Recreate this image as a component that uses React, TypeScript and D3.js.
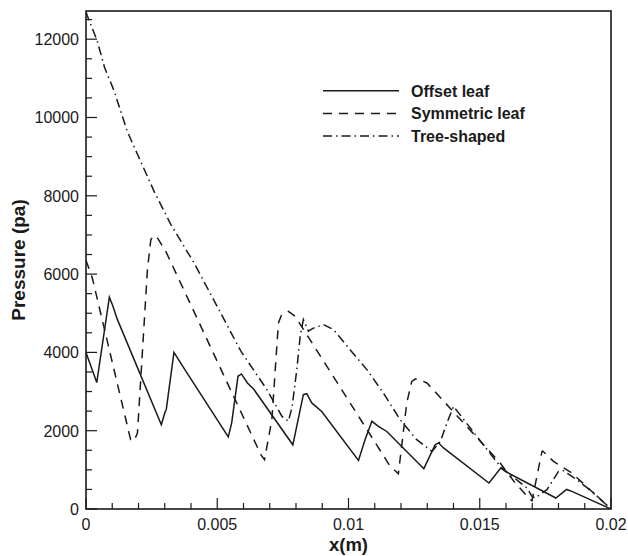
import React from 'react';
import * as d3 from 'd3';

// Offset leaf (solid)
const offsetX = [0, 0.00041, 0.00089, 0.00102, 0.00119, 0.00287, 0.003, 0.00306, 0.00335, 0.00373, 0.00542, 0.00555, 0.00579, 0.00592, 0.00615, 0.0064, 0.00788, 0.00828, 0.00841, 0.0086, 0.00898, 0.01038, 0.01063, 0.01089, 0.01114, 0.01146, 0.01287, 0.0133, 0.01343, 0.01362, 0.01535, 0.0158, 0.01597, 0.0179, 0.01831, 0.01851, 0.02];
const offsetY = [4000, 3230, 5410, 5190, 4850, 2150, 2450, 2550, 4000, 3600, 1840, 2200, 3390, 3450, 3220, 3050, 1640, 2920, 2945, 2710, 2490, 1240, 1770, 2240, 2110, 1980, 1030, 1640, 1690, 1560, 664, 1047, 960, 281, 500, 450, 0];

// Symmetric leaf (dashed)
const symX = [0, 0.00024, 0.0017, 0.00183, 0.00196, 0.00234, 0.00247, 0.00259, 0.00269, 0.00304, 0.00666, 0.0068, 0.00708, 0.00733, 0.00745, 0.00771, 0.00797, 0.01159, 0.0119, 0.01222, 0.01241, 0.01254, 0.0127, 0.01299, 0.01578, 0.01635, 0.01693, 0.01699, 0.01737, 0.0174, 0.01781, 0.01851, 0.0194, 0.02];
const symY = [6350, 5900, 1770, 1740, 1940, 6110, 6880, 6980, 6960, 6580, 1390, 1260, 2280, 4750, 4960, 5050, 4920, 1090, 900, 2710, 3260, 3320, 3300, 3220, 1175, 664, 238, 212, 1471, 1480, 1216, 919, 365, 0];

// Tree-shaped (dash-dot)
const treeX = [0, 0.00005, 0.00043, 0.00071, 0.00107, 0.00157, 0.00196, 0.00259, 0.00323, 0.00412, 0.005, 0.0059, 0.00689, 0.00746, 0.00771, 0.00785, 0.00803, 0.00816, 0.00828, 0.00847, 0.00866, 0.00905, 0.00943, 0.01006, 0.0107, 0.01133, 0.01197, 0.0126, 0.01318, 0.0135, 0.01375, 0.014, 0.01578, 0.01648, 0.0168, 0.01699, 0.01711, 0.01756, 0.018, 0.01819, 0.0187, 0.01934, 0.02];
const treeY = [12700, 12600, 11950, 11270, 10680, 9650, 9060, 8120, 7270, 6280, 5170, 4030, 3050, 2370, 2240, 2600, 3560, 4410, 4840, 4540, 4620, 4710, 4580, 4070, 3560, 2960, 2280, 1770, 1471, 1726, 2196, 2620, 1088, 705, 536, 322, 281, 493, 960, 978, 748, 409, 0];

const xTicks = [0, 0.005, 0.01, 0.015, 0.02];
const xTickLabels = ['0', '0.005', '0.01', '0.015', '0.02'];
const yTicks = [0, 2000, 4000, 6000, 8000, 10000, 12000];
const seriesNames = ['Offset leaf', 'Symmetric leaf', 'Tree-shaped'];

const W = 628;
const H = 556;
const left = 86, right = 611, top = 11, bottom = 509;
const font = '"Liberation Sans", Arial, sans-serif';
const ink = '#1a1a1a';

const App = () => {
  const x = d3.scaleLinear().domain([0, 0.02]).range([left, right]);
  const y = d3.scaleLinear().domain([0, 12720]).range([bottom, top]);

  const line = d3.line<[number, number]>()
    .x((d) => x(d[0]))
    .y((d) => y(d[1]));

  const series = [
    { xs: offsetX, ys: offsetY, dash: undefined },
    { xs: symX, ys: symY, dash: '9,7' },
    { xs: treeX, ys: treeY, dash: '9,4,1.5,4' },
  ];

  const xMinor = d3.range(0, 0.02001, 0.001);
  const yMinor = d3.range(0, 12501, 500);

  return (
    <svg width={W} height={H} style={{ position: 'absolute', left: 0, top: 0, background: '#fff' }}>
      <defs>
        <clipPath id="plot">
          <rect x={left} y={top} width={right - left} height={bottom - top} />
        </clipPath>
      </defs>
      <g clipPath="url(#plot)">
        {series.map((s, i) => (
          <path
            key={i}
            d={line(s.xs.map((v, j) => [v, s.ys[j]] as [number, number])) || ''}
            fill="none"
            stroke={ink}
            strokeWidth={1.5}
            strokeDasharray={s.dash}
          />
        ))}
      </g>
      {/* ticks */}
      {xMinor.map((t, i) => {
        const major = i % 5 === 0;
        return (
          <line key={'xm' + i} x1={x(t)} x2={x(t)} y1={bottom} y2={bottom - (major ? 11 : 6)} stroke={ink} strokeWidth={1.2} />
        );
      })}
      {yMinor.map((t, i) => {
        const major = i % 4 === 0;
        return (
          <line key={'ym' + i} x1={left} x2={left + (major ? 11 : 6)} y1={y(t)} y2={y(t)} stroke={ink} strokeWidth={1.2} />
        );
      })}
      <rect x={left} y={top} width={right - left} height={bottom - top} fill="none" stroke={ink} strokeWidth={1.6} />
      {xTicks.map((t, i) => (
        <text key={'xt' + i} x={x(t)} y={530} textAnchor="middle" fontFamily={font} fontSize={16} fill={ink}>
          {xTickLabels[i]}
        </text>
      ))}
      {yTicks.map((t) => (
        <text key={'yt' + t} x={79} y={y(t) + 6} textAnchor="end" fontFamily={font} fontSize={16} fill={ink}>
          {t}
        </text>
      ))}
      <text x={(left + right) / 2} y={551} textAnchor="middle" fontFamily={font} fontSize={18.5} fontWeight="bold" fill={ink}>
        x(m)
      </text>
      <text transform={`translate(25, ${(top + bottom) / 2}) rotate(-90)`} textAnchor="middle" fontFamily={font} fontSize={19} fontWeight="bold" fill={ink}>
        Pressure (pa)
      </text>
      {/* legend */}
      {seriesNames.map((name, i) => {
        const ly = 90.7 + i * 22.7;
        return (
          <g key={name}>
            <line x1={323} x2={399} y1={ly} y2={ly} stroke={ink} strokeWidth={1.5} strokeDasharray={series[i].dash} />
            <text x={411} y={ly + 6} fontFamily={font} fontSize={16} fontWeight="bold" fill={ink}>
              {name}
            </text>
          </g>
        );
      })}
    </svg>
  );
};

export default App;
